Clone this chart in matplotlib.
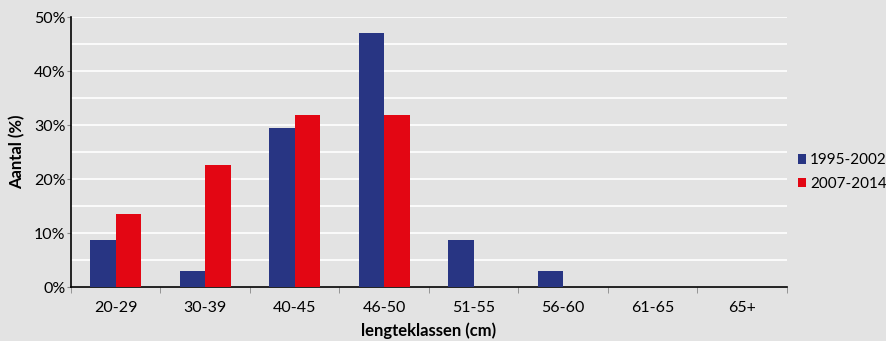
import numpy as np
import matplotlib.pyplot as plt
from matplotlib.ticker import MultipleLocator, FuncFormatter

plt.rcParams['font.family'] = ['Lato', 'DejaVu Sans']

# Data
klassen = ["20-29", "30-39", "40-45", "46-50", "51-55", "56-60", "61-65", "65+"]
periode_1 = [8.8, 2.9, 29.4, 47.1, 8.8, 2.9, 0, 0]      # 1995-2002
periode_2 = [13.6, 22.7, 31.8, 31.8, 0, 0, 0, 0]        # 2007-2014
labels = ["1995-2002", "2007-2014"]
kleuren = ["#283583", "#e30613"]
bg = "#e3e3e3"

fig = plt.figure(figsize=(8.87, 3.41), dpi=100, facecolor=bg)
ax = fig.add_axes([0.080, 0.158, 0.807, 0.792], facecolor=bg)

x = np.arange(len(klassen))
w = 0.285
ax.bar(x - w / 2, periode_1, w, color=kleuren[0], label=labels[0], zorder=3)
ax.bar(x + w / 2, periode_2, w, color=kleuren[1], label=labels[1], zorder=3)

ax.set_xlim(-0.5, len(klassen) - 0.5)
ax.set_ylim(0, 50)
ax.yaxis.set_major_locator(MultipleLocator(10))
ax.yaxis.set_minor_locator(MultipleLocator(5))
ax.yaxis.set_major_formatter(FuncFormatter(lambda v, p: f"{v:.0f}%"))
ax.grid(axis="y", which="both", color="white", linewidth=1.2, zorder=0)

ax.set_xticks(x)
ax.set_xticklabels(klassen, fontsize=11.5)
ax.set_xticks(np.arange(len(klassen) + 1) - 0.5, minor=True)
ax.tick_params(axis="x", which="major", length=0, pad=10)
ax.tick_params(axis="x", which="minor", length=4, color="#888888")
ax.tick_params(axis="y", which="major", length=3, color="#888888", labelsize=11.5, pad=1)
ax.tick_params(axis="y", which="minor", length=0)

for s in ["top", "right"]:
    ax.spines[s].set_visible(False)
for s in ["left", "bottom"]:
    ax.spines[s].set_color("black")
    ax.spines[s].set_linewidth(1.2)

ax.set_xlabel("lengteklassen (cm)", fontsize=12, fontweight="bold", labelpad=5)
ax.set_ylabel("Aantal (%)", fontsize=12, fontweight="bold", labelpad=6)

fig.legend(loc="center left", bbox_to_anchor=(798 / 887, 1 - 172 / 341), frameon=False,
           fontsize=11, handlelength=0.55, handleheight=0.55, handletextpad=0.25,
           labelspacing=0.6, borderaxespad=0, borderpad=0)

fig.savefig("out.png", dpi=100, facecolor=bg)
